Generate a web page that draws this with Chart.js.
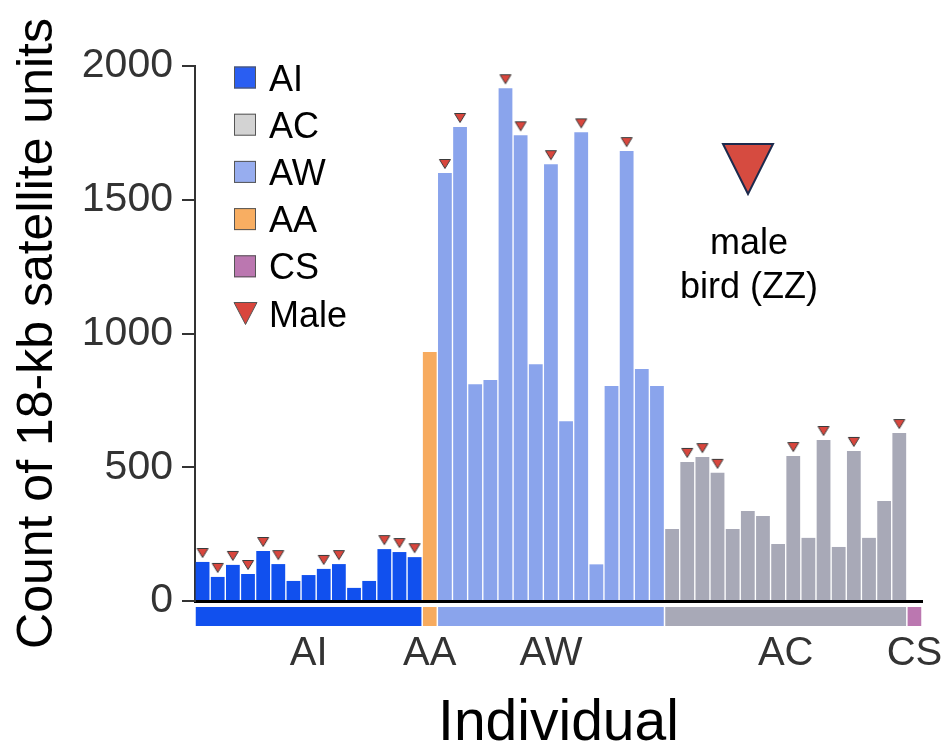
<!DOCTYPE html>
<html>
<head>
<meta charset="utf-8">
<title>Count of 18-kb satellite units</title>
<script src="https://cdn.jsdelivr.net/npm/chart.js@4.4.1/dist/chart.umd.min.js"></script>
<style>
  html, body { margin: 0; padding: 0; background: #fff; }
  #wrap { width: 947px; height: 752px; }
</style>
</head>
<body>
<div id="wrap"><canvas id="chart"></canvas></div>
<script>
const FONT = "'Liberation Sans', Arial, Helvetica, sans-serif";

/* =====================================================
   DATA (left to right)
===================================================== */
const groupNames = ["AI", "AA", "AW", "AC", "CS"];

const aiCounts = [146, 90, 135, 101, 187, 138, 75, 97, 120, 138, 49, 75, 194, 183, 164];
const aiMale   = [1, 1, 1, 1, 1, 1, 0, 0, 1, 1, 0, 0, 1, 1, 1];

const aaCounts = [931];
const aaMale   = [0];

const awCounts = [1600, 1772, 810, 826, 1917, 1741, 885, 1633, 672, 1752, 137, 804, 1682, 867, 804];
const awMale   = [1, 1, 0, 0, 1, 1, 0, 1, 0, 1, 0, 0, 1, 0, 0];

const acCounts = [269, 520, 538, 479, 269, 336, 318, 213, 542, 236, 602, 202, 561, 236, 374, 628];
const acMale   = [0, 1, 1, 1, 0, 0, 0, 0, 1, 0, 1, 0, 1, 0, 0, 1];

const csCounts = [0];
const csMale   = [0];

const yTicks = [0, 500, 1000, 1500, 2000];

/* =====================================================
   COLOURS
===================================================== */
const barColors = { AI: "#1150ee", AA: "#f7ab5f", AW: "#8aa4ec", AC: "#a8a9b7", CS: "#bb77b0" };
const legendItems = [
  ["AI", "#2a5ef2"],
  ["AC", "#d3d3d3"],
  ["AW", "#97adef"],
  ["AA", "#f8ae62"],
  ["CS", "#bb77b0"]
];
const maleRed = "#d9463d";

/* =====================================================
   BUILD SERIES
===================================================== */
const groupCounts = [aiCounts, aaCounts, awCounts, acCounts, csCounts];
const groupMales = [aiMale, aaMale, awMale, acMale, csMale];

const individuals = [];
const counts = [];
const colors = [];
const maleTops = [];
const groupSpans = [];

groupNames.forEach((g, gi) => {
  const start = counts.length;
  groupCounts[gi].forEach((v, k) => {
    individuals.push(g + (k + 1));
    counts.push(v);
    colors.push(barColors[g]);
    maleTops.push(groupMales[gi][k] ? v : null);
  });
  groupSpans.push({ name: g, start: start, end: counts.length - 1 });
});

const groupCenters = groupSpans.map(s => (s.start + s.end) / 2);

// small triangle sitting a few px above the bar top
function makeMarker() {
  const c = document.createElement("canvas");
  c.width = 14;
  c.height = 34;
  const g = c.getContext("2d");
  g.beginPath();
  g.moveTo(1.5, 3.5);
  g.lineTo(12.5, 3.5);
  g.lineTo(7, 12.5);
  g.closePath();
  g.fillStyle = maleRed;
  g.fill();
  g.strokeStyle = "#3a3a3a";
  g.lineWidth = 1;
  g.stroke();
  return c;
}

/* =====================================================
   PLUGINS: group strip, legend, note
===================================================== */
const groupStrip = {
  id: "groupStrip",
  afterDraw(chart) {
    const x = chart.scales.x;
    const ctx = chart.ctx;
    const w = x.width / individuals.length;
    const top = chart.chartArea.bottom + 6;
    ctx.save();
    groupSpans.forEach(s => {
      const x0 = x.getPixelForValue(s.start) - w / 2 + 0.75;
      const x1 = x.getPixelForValue(s.end) + w / 2 - 0.75;
      ctx.fillStyle = barColors[s.name];
      ctx.fillRect(x0, top, x1 - x0, 19);
    });
    ctx.restore();
  }
};

const boxLegend = {
  id: "boxLegend",
  afterDraw(chart) {
    const ctx = chart.ctx;
    const boxX = 234, textX = 269, firstY = 77.5, gap = 47.2;
    ctx.save();
    ctx.font = "36px " + FONT;
    ctx.textBaseline = "alphabetic";
    legendItems.forEach((item, i) => {
      const cy = firstY + i * gap;
      ctx.fillStyle = item[1];
      ctx.fillRect(boxX, cy - 11, 22, 22);
      ctx.strokeStyle = "#555";
      ctx.lineWidth = 1;
      ctx.strokeRect(boxX + 0.5, cy - 10.5, 21, 21);
      ctx.fillStyle = "#000";
      ctx.fillText(item[0], textX, cy + 13);
    });
    const my = firstY + legendItems.length * gap;
    ctx.beginPath();
    ctx.moveTo(boxX, my - 11);
    ctx.lineTo(boxX + 23, my - 11);
    ctx.lineTo(boxX + 11.5, my + 11);
    ctx.closePath();
    ctx.fillStyle = maleRed;
    ctx.fill();
    ctx.strokeStyle = "#555";
    ctx.lineWidth = 1;
    ctx.stroke();
    ctx.fillStyle = "#000";
    ctx.fillText("Male", textX, my + 13);
    ctx.restore();
  }
};

const maleNote = {
  id: "maleNote",
  afterDraw(chart) {
    const ctx = chart.ctx;
    ctx.save();
    ctx.beginPath();
    ctx.moveTo(723, 144);
    ctx.lineTo(773, 144);
    ctx.lineTo(748, 194);
    ctx.closePath();
    ctx.fillStyle = "#d64b40";
    ctx.fill();
    ctx.strokeStyle = "#1c2a4d";
    ctx.lineWidth = 2;
    ctx.stroke();
    ctx.fillStyle = "#000";
    ctx.font = "36px " + FONT;
    ctx.textAlign = "center";
    ctx.textBaseline = "alphabetic";
    ctx.fillText("male", 749, 254);
    ctx.fillText("bird (ZZ)", 749, 298);
    ctx.restore();
  }
};

/* =====================================================
   CHART
===================================================== */
new Chart(document.getElementById("chart"), {
  type: "bar",
  data: {
    labels: individuals,
    datasets: [
      {
        type: "line",
        label: "Male",
        xAxisID: "x",
        yAxisID: "y",
        data: maleTops,
        showLine: false,
        pointStyle: makeMarker(),
        order: 0
      },
      {
        label: "Count",
        xAxisID: "x",
        yAxisID: "y",
        data: counts,
        backgroundColor: colors,
        borderWidth: 0,
        barPercentage: 0.91,
        categoryPercentage: 1,
        order: 1
      }
    ]
  },
  options: {
    responsive: true,
    maintainAspectRatio: false,
    animation: false,
    events: [],
    layout: { padding: { top: 66, right: 25, bottom: 0, left: 0 } },
    plugins: {
      legend: { display: false },
      tooltip: { enabled: false }
    },
    scales: {
      x: { display: false, offset: true },
      xg: {
        type: "linear",
        position: "bottom",
        offset: false,
        min: -0.5,
        max: 47.5,
        afterBuildTicks: s => { s.ticks = groupCenters.map(v => ({ value: v })); },
        afterFit: s => {
          s.height = 151;
          s.paddingLeft = 0;
          s.paddingRight = 0;
        },
        grid: { display: false, drawTicks: false, offset: false },
        border: { display: true, color: "#000", width: 3 },
        ticks: {
          autoSkip: false,
          maxRotation: 0,
          padding: 29,
          color: "#333",
          font: { family: FONT, size: 40 },
          callback: (v, i) => groupNames[i]
        },
        title: {
          display: true,
          text: "Individual",
          color: "#000",
          font: { family: FONT, size: 57, lineHeight: 0.9 },
          padding: { top: 0, bottom: 2 }
        }
      },
      y: {
        min: 0,
        max: 2000,
        afterBuildTicks: s => { s.ticks = yTicks.map(v => ({ value: v })); },
        afterFit: s => { s.width = 195; },
        grid: { drawOnChartArea: false, drawTicks: true, tickLength: 13, color: "#333", lineWidth: 2 },
        border: { display: true, color: "#333", width: 2 },
        ticks: {
          padding: 9,
          color: "#333",
          font: { family: FONT, size: 41 },
          callback: v => String(v)
        },
        title: {
          display: true,
          text: "Count of 18-kb satellite units",
          color: "#000",
          font: { family: FONT, size: 50 },
          padding: { top: 8, bottom: 0 }
        }
      }
    }
  },
  plugins: [groupStrip, boxLegend, maleNote]
});
</script>
</body>
</html>
